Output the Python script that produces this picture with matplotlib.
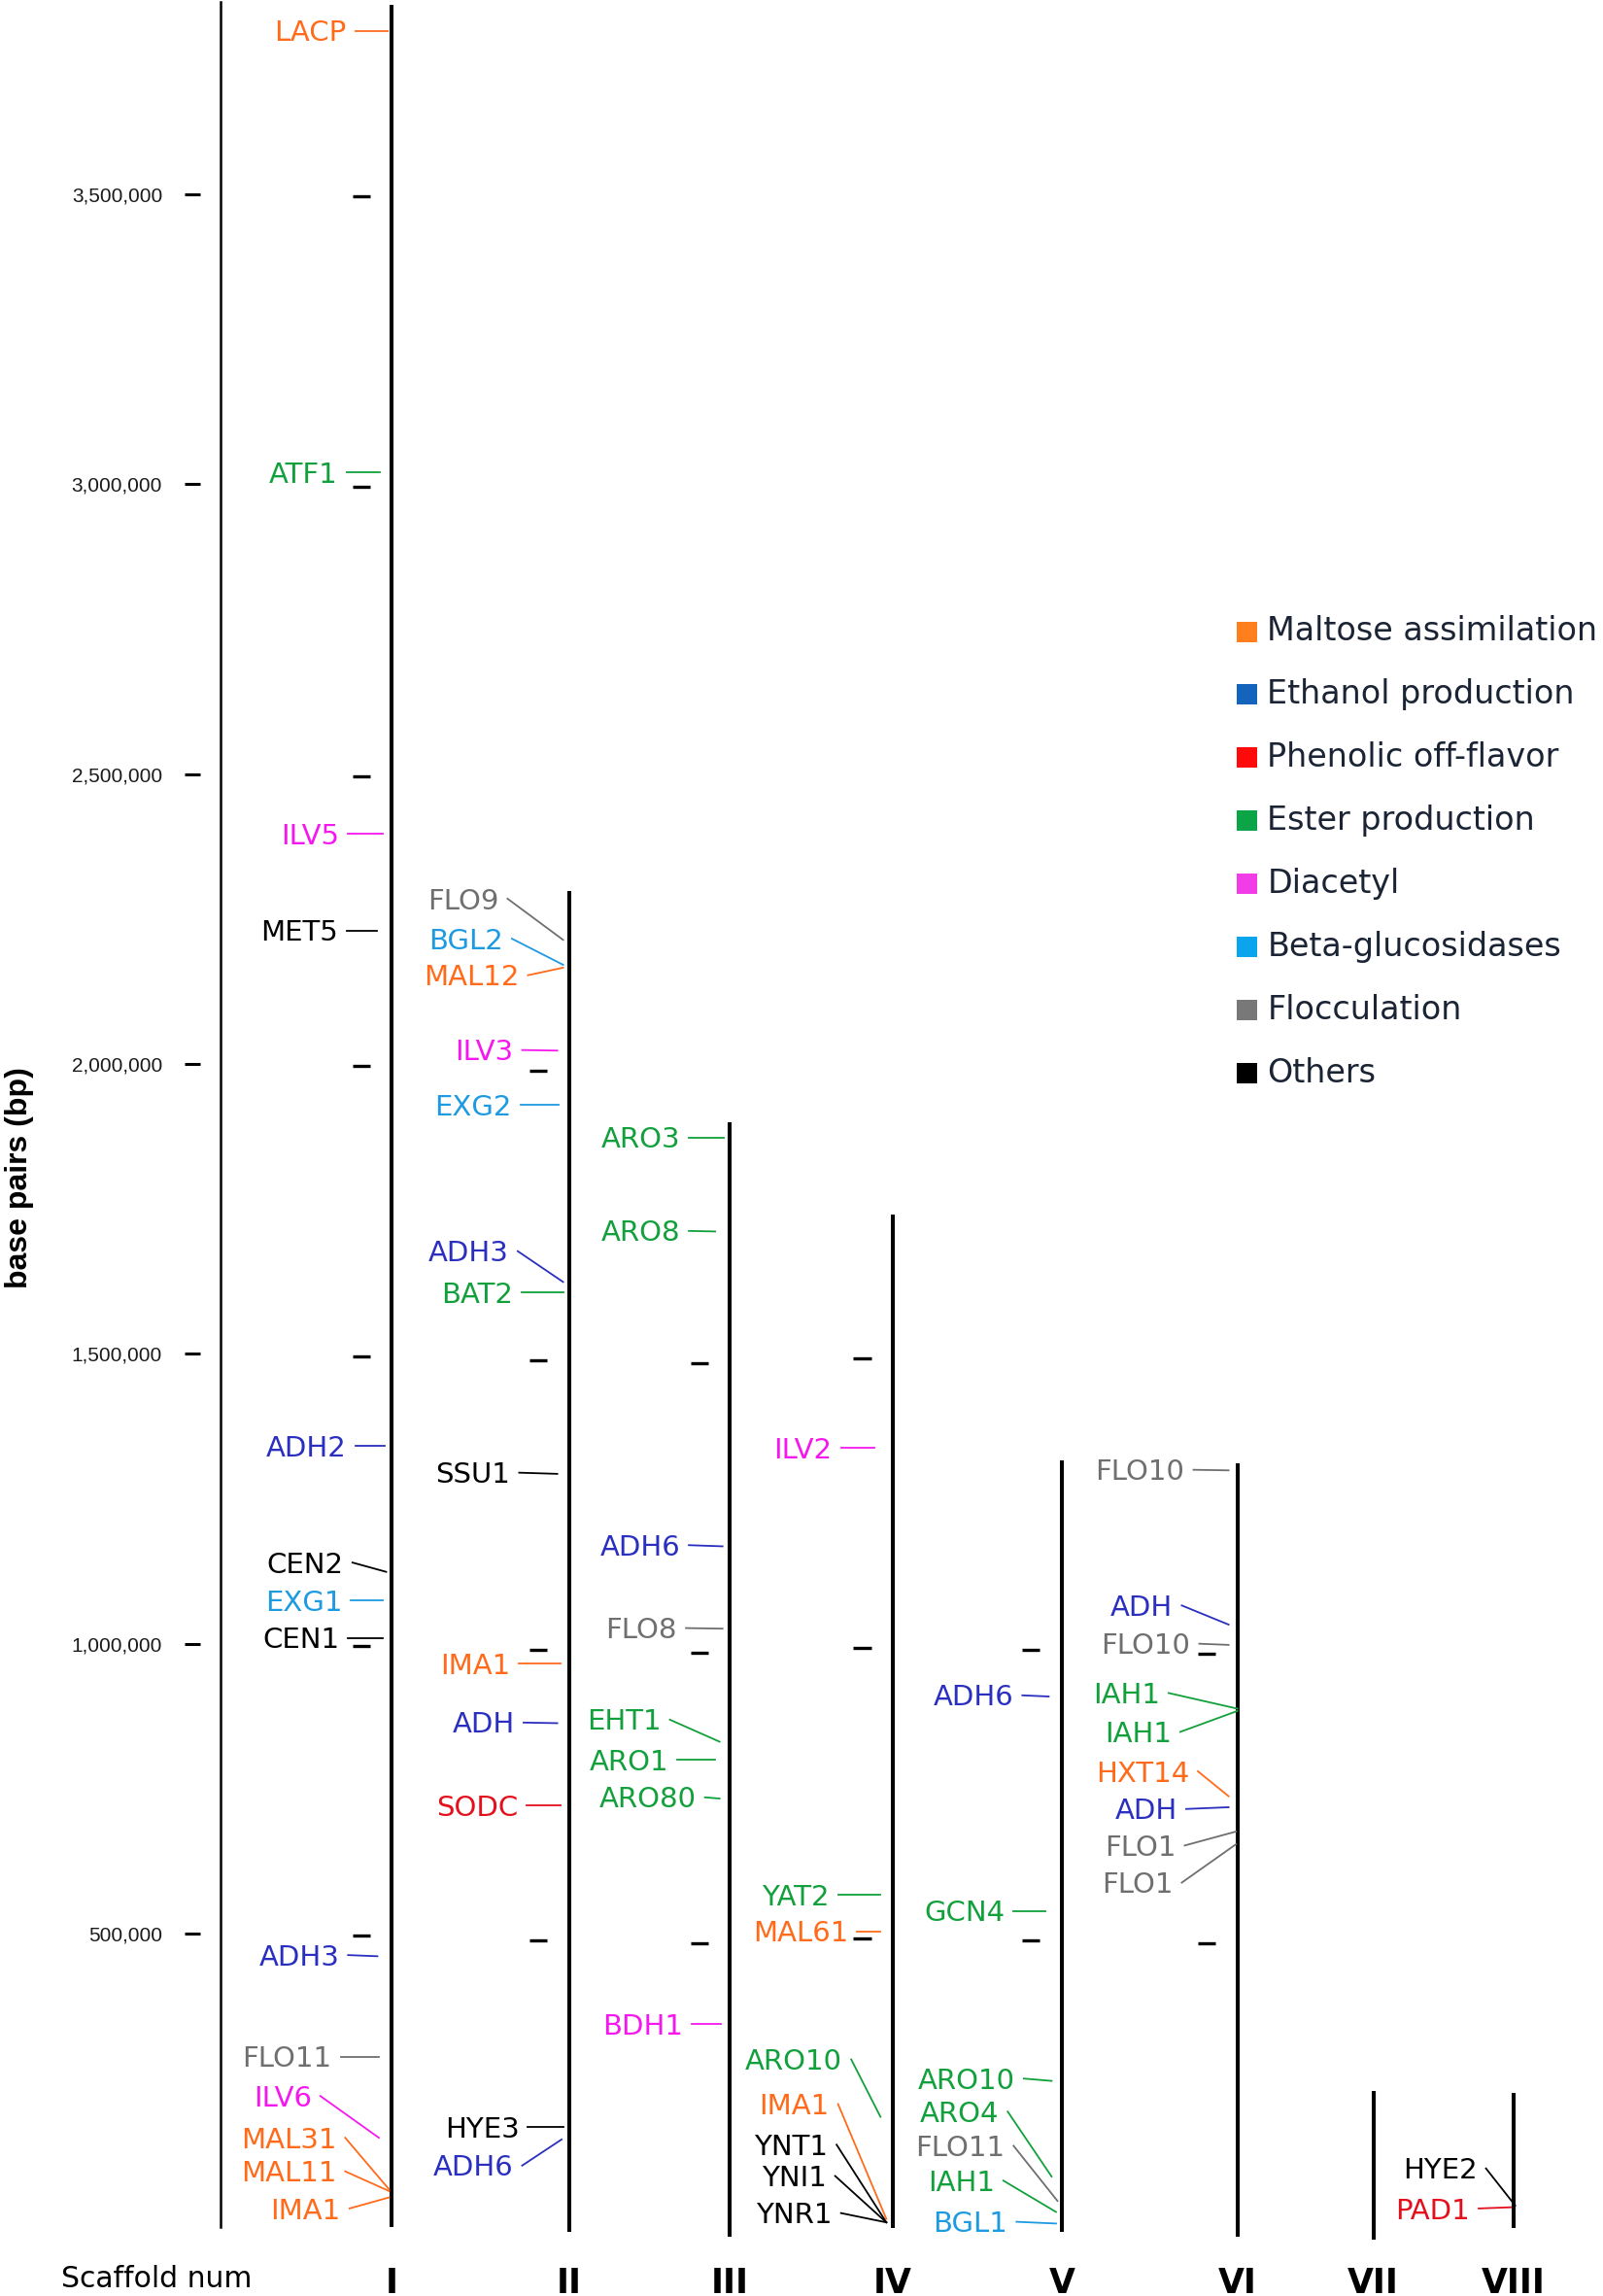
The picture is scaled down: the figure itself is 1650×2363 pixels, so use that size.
import matplotlib
matplotlib.use("Agg")
import matplotlib.pyplot as plt
from matplotlib.patches import Rectangle

# ---- scaffolds ----
chrom_names = ['I', 'II', 'III', 'IV', 'V', 'VI', 'VII', 'VIII']
chrom_start_kb = [-6, -14, -22, -8, -14, -22, -28, -8]
chrom_end_kb = [3827, 2298, 1899, 1741, 1317, 1311, 229, 225]

# ---- legend categories ----
cat_keys = ['malt', 'eth', 'phen', 'ester', 'diac', 'beta', 'floc', 'other']
cat_labels = ['Maltose assimilation', 'Ethanol production', 'Phenolic off-flavor',
              'Ester production', 'Diacetyl', 'Beta-glucosidases', 'Flocculation', 'Others']

# ---- genes ----
gene_chrom = ['I'] * 14 + ['II'] * 13 + ['III'] * 8 + ['IV'] * 8 + ['V'] * 7 + ['VI'] * 9 + ['VIII'] * 2
gene_names = ['LACP', 'ATF1', 'ILV5', 'MET5', 'ADH2', 'CEN2', 'EXG1', 'CEN1', 'ADH3', 'FLO11',
              'ILV6', 'MAL31', 'MAL11', 'IMA1',
              'FLO9', 'BGL2', 'MAL12', 'ILV3', 'EXG2', 'ADH3', 'BAT2', 'SSU1', 'IMA1', 'ADH',
              'SODC', 'HYE3', 'ADH6',
              'ARO3', 'ARO8', 'ADH6', 'FLO8', 'EHT1', 'ARO1', 'ARO80', 'BDH1',
              'ILV2', 'YAT2', 'MAL61', 'ARO10', 'IMA1', 'YNT1', 'YNI1', 'YNR1',
              'ADH6', 'GCN4', 'ARO10', 'ARO4', 'FLO11', 'IAH1', 'BGL1',
              'FLO10', 'ADH', 'FLO10', 'IAH1', 'IAH1', 'HXT14', 'ADH', 'FLO1', 'FLO1',
              'HYE2', 'PAD1']
gene_cat = ['malt', 'ester', 'diac', 'other', 'eth', 'other', 'beta', 'other', 'eth', 'floc',
            'diac', 'malt', 'malt', 'malt',
            'floc', 'beta', 'malt', 'diac', 'beta', 'eth', 'ester', 'other', 'malt', 'eth',
            'phen', 'other', 'eth',
            'ester', 'ester', 'eth', 'floc', 'ester', 'ester', 'ester', 'diac',
            'diac', 'ester', 'malt', 'ester', 'malt', 'other', 'other', 'other',
            'eth', 'ester', 'ester', 'ester', 'floc', 'ester', 'beta',
            'floc', 'eth', 'floc', 'ester', 'ester', 'malt', 'eth', 'floc', 'floc',
            'other', 'phen']
gene_pos_kb = [3782, 3020, 2397, 2230, 1341, 1124, 1075, 1010, 461, 288,
               148, 59, 56, 45,
               2214, 2171, 2166, 2023, 1929, 1624, 1606, 1293, 966, 863,
               721, 166, 145,
               1873, 1711, 1168, 1026, 831, 800, 733, 344,
               1338, 567, 504, 184, 8, 2, 2, 2,
               909, 539, 246, 81, 39, 20, 0,
               1299, 1033, 998, 888, 884, 737, 718, 676, 654,
               31, 28]

# ---- label layout (label height in kb, connector x range) ----
label_kb = [3782, 3020, 2397, 2230, 1341, 1140, 1075, 1010, 463, 288,
            220, 148, 90, 26,
            2285, 2216, 2153, 2024, 1929, 1677, 1606, 1295, 966, 864,
            721, 166, 100,
            1873, 1712, 1170, 1027, 869, 800, 735, 344,
            1338, 567, 504, 283, 206, 136, 82, 18,
            911, 539, 250, 193, 134, 74, 3,
            1300, 1066, 1000, 915, 848, 780, 715, 652, 588,
            95, 26]
line_x0 = [243, 237, 238, 237, 243, 241, 240, 238, 238, 233,
           219, 236, 236, 239,
           347, 350, 361, 357, 356, 354, 357, 355, 355, 358,
           360, 361, 357,
           471, 471, 471, 469, 458, 463, 482, 473,
           575, 573, 586, 582, 573, 572, 571, 575,
           699, 693, 700, 689, 693, 686, 695,
           816, 808, 820, 799, 807, 819, 811, 810, 808,
           1016, 1011]
line_x1 = [265, 260, 262, 258, 263, 264, 262, 262, 258, 259,
           259, 266, 266, 266,
           385, 385, 385, 381, 382, 385, 385, 381, 383, 381,
           383, 385, 384,
           495, 489, 494, 494, 492, 489, 492, 493,
           598, 602, 602, 602, 606, 606, 606, 606,
           717, 715, 719, 719, 723, 722, 722,
           840, 840, 840, 846, 846, 840, 840, 845, 845,
           1036, 1033]

chrom_x = [268, 389, 499, 610.5, 726, 846, 939, 1035]
tick_shift_kb = [-4, -11, -16, -8, -11, -17, 0, 0]
ruler_x = 150.5

text_colors = {'malt': '#FF6B1A', 'eth': '#2A2FBF', 'phen': '#E3101C', 'ester': '#12A03C',
               'diac': '#F518EE', 'beta': '#1E9AE0', 'floc': '#6F6F6F', 'other': '#000000'}
legend_colors = ['#FF7F1E', '#1464BE', '#FF0A0A', '#0BA548', '#F23CE8', '#0AA5EC', '#787878', '#000000']

KB_PER_PX = 1 / 0.59667      # kb per output pixel


def cap_text(x, y_kb, s, size, family='DejaVu Sans', cap=0.729, **kw):
    # place text so that its capital letters are centred on y_kb
    base = y_kb - cap * size * 100 / 72 / 2 * KB_PER_PX
    ax.text(x, base * 1000, s, fontsize=size, family=family, va='baseline', **kw)


fig = plt.figure(figsize=(16.5, 23.63), dpi=100)
ax = fig.add_axes([0, 0, 1, 1])
ax.set_xlim(0, 1096)
ax.set_ylim(-125000, 3835000)
ax.axis('off')

# ruler with tick labels
ax.plot([ruler_x, ruler_x], [-6000, 3832000], color='black', lw=1.8)
for v in range(500000, 3500001, 500000):
    ax.plot([126, 137], [v, v], color='black', lw=2.2, solid_capstyle='butt')
    cap_text(111, v / 1000, f'{v:,}', 15, family='Liberation Sans', cap=0.716,
             ha='right', color='#1a1a1a')

ax.text(13.3, 1804000, 'base pairs (bp)', rotation=90, fontsize=23, fontweight='bold',
        family='Liberation Sans', ha='center', va='center')

# scaffolds and their 500 kb ticks
for name, x, s, e, sh in zip(chrom_names, chrom_x, chrom_start_kb, chrom_end_kb, tick_shift_kb):
    ax.plot([x, x], [s * 1000, e * 1000], color='black', lw=2.9, solid_capstyle='butt')
    v = 500
    while v < e and e > 500:
        ax.plot([x - 27, x - 15], [(v + sh) * 1000] * 2, color='black', lw=2.4,
                solid_capstyle='butt')
        v += 500
    cap_text(x, -98, name, 25, ha='center', color='black', fontweight='bold')

cap_text(42, -92, 'Scaffold num', 21.5, ha='left', color='black')

# genes
for ch, nm, ct, pos, lab, x0, x1 in zip(gene_chrom, gene_names, gene_cat, gene_pos_kb,
                                        label_kb, line_x0, line_x1):
    col = text_colors[ct]
    ax.plot([x0, x1], [lab * 1000, pos * 1000], color=col, lw=1.3)
    cap_text(x0 - 6, lab, nm, 21, ha='right', color=col)

# legend
for i, (lbl, col) in enumerate(zip(cat_labels, legend_colors)):
    yc = 2745.7 - i * 108.8
    h = 35.2
    ax.add_patch(Rectangle((845.5, (yc - h / 2) * 1000), 14, h * 1000, color=col, lw=0))
    cap_text(866.5, yc + 5, lbl, 24, ha='left', color='#1b2434')

fig.savefig('out.png', dpi=100)
